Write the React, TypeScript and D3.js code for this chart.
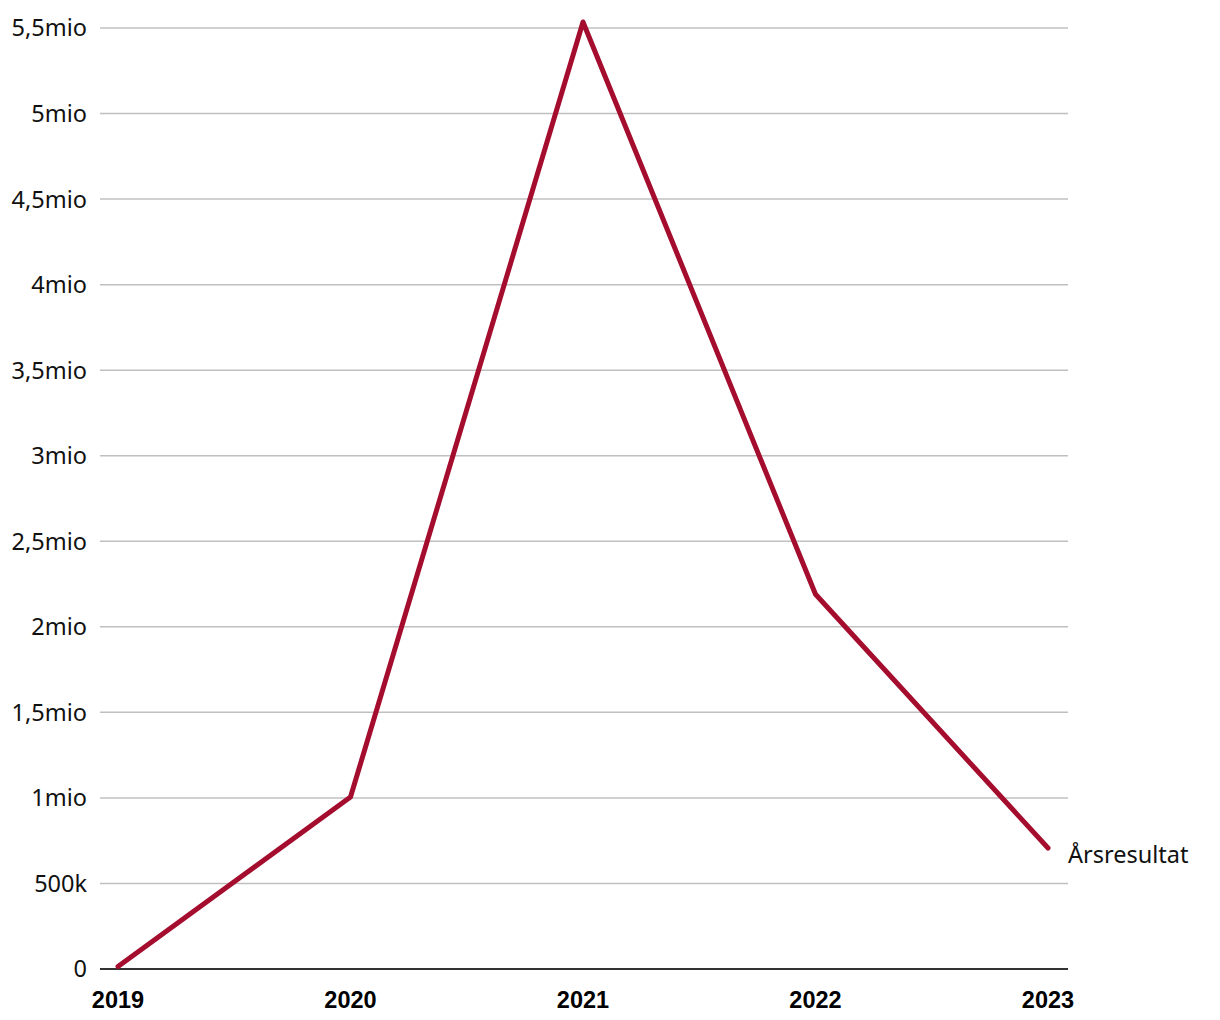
import React from "react";
import * as d3 from "d3";

const years = ["2019", "2020", "2021", "2022", "2023"];
const results = [15000, 1005000, 5535000, 2190000, 707000];
const yTicks = [0, 500000, 1000000, 1500000, 2000000, 2500000, 3000000, 3500000, 4000000, 4500000, 5000000, 5500000];
const yTickLabels = ["0", "500k", "1mio", "1,5mio", "2mio", "2,5mio", "3mio", "3,5mio", "4mio", "4,5mio", "5mio", "5,5mio"];
const seriesName = "Årsresultat";

export default function App() {
  const width = 1220;
  const height = 1020;
  const left = 100;
  const right = 1068;
  const x = d3.scalePoint<string>().domain(years).range([118, 1048]);
  const y = d3.scaleLinear().domain([0, 5500000]).range([969, 28]);
  const line = d3
    .line<number>()
    .x((_, i) => x(years[i]) as number)
    .y((d) => y(d));
  const last = results[results.length - 1];
  return (
    <svg width={width} height={height} style={{ position: "absolute", left: 0, top: 0 }}>
      {yTicks.map((t, i) => (
        <g key={t}>
          {t !== 0 && (
            <line x1={left} x2={right} y1={y(t)} y2={y(t)} stroke="#c0c0c0" strokeWidth={1.5} />
          )}
          <text
            x={87}
            y={y(t)}
            dy="0.36em"
            textAnchor="end"
            fontFamily="'Noto Sans', 'Open Sans', sans-serif"
            fontSize={23.5}
            fill="#111"
          >
            {yTickLabels[i]}
          </text>
        </g>
      ))}
      <line x1={left} x2={right} y1={y(0)} y2={y(0)} stroke="#333" strokeWidth={2} />
      {years.map((yr) => (
        <text
          key={yr}
          x={x(yr)}
          y={1008}
          textAnchor="middle"
          fontFamily="'Liberation Sans', Arial, sans-serif"
          fontWeight="bold"
          fontSize={23.5}
          fill="#000"
        >
          {yr}
        </text>
      ))}
      <path
        d={line(results) || ""}
        fill="none"
        stroke="#a50d2e"
        strokeWidth={5}
        strokeLinejoin="round"
        strokeLinecap="round"
      />
      <text
        x={1068}
        y={y(last) + 15}
        fontFamily="'Noto Sans', 'Open Sans', sans-serif"
        fontSize={23.5}
        fill="#111"
      >
        {seriesName}
      </text>
    </svg>
  );
}
